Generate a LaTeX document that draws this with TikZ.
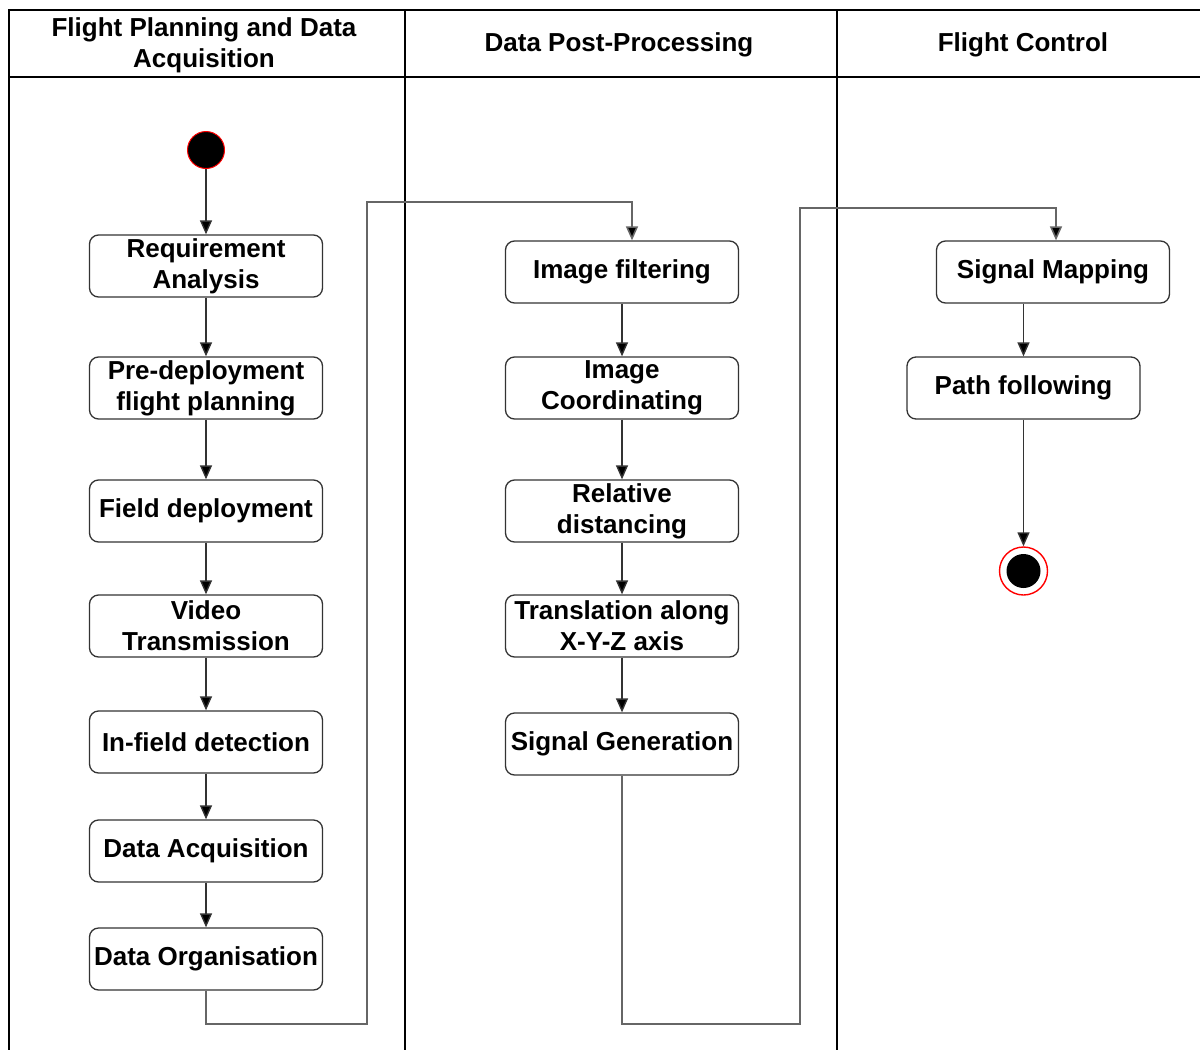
\documentclass[tikz,border=0pt]{standalone}
\usepackage{fontspec}
\setmainfont{Liberation Sans}
\usetikzlibrary{arrows.meta}
\begin{document}
\begin{tikzpicture}[x=1pt,y=-1pt,
  every node/.style={font=\fontsize{26}{31}\selectfont\bfseries},
  actbox/.style={draw=black!80, line width=1.3pt, rounded corners=9pt, minimum width=233pt, minimum height=62pt, inner sep=1pt, align=center},
  arr/.style={draw=black!80, line width=1.4pt, -{Triangle[length=14pt,width=12pt,fill=black]}},
  loopline/.style={draw=black!60, line width=1.6pt, -{Triangle[length=14pt,width=12pt,fill=black]}},
  hdr/.style={align=center, inner sep=0pt}
]
\useasboundingbox (0,0) rectangle (1200,1050);
% swimlane frame
\draw[line width=2pt] (9,1050) -- (9,10) -- (1200,10);
\draw[line width=2pt] (9,77) -- (1200,77);
\draw[line width=2.6pt] (405,10) -- (405,1050);
\draw[line width=1.3pt] (837,10) -- (837,1050);
% headers
\node[hdr] (h1) at (204,45) {Flight Planning and Data\\Acquisition};
\node[hdr] (h2) at (619,45) {Data Post-Processing};
\node[hdr] (h3) at (1023,45) {Flight Control};
% start
\node[circle, fill=black, draw=red, line width=1pt, minimum size=37pt, inner sep=0pt] (start) at (206,150) {};
% column 1
\node[actbox] (r1) at (206,266) {Requirement\\Analysis};
\node[actbox] (r2) at (206,388) {Pre-deployment\\flight planning};
\node[actbox] (r3) at (206,511) {Field deployment};
\node[actbox] (r4) at (206,626) {Video\\Transmission};
\node[actbox] (r5) at (206,742) {In-field detection};
\node[actbox] (r6) at (206,851) {Data Acquisition};
\node[actbox] (r7) at (206,959) {Data Organisation};
% column 2
\node[actbox] (p1) at (622,272) {Image filtering};
\node[actbox] (p2) at (622,388) {Image\\Coordinating};
\node[actbox] (p3) at (622,511) {Relative\\distancing};
\node[actbox] (p4) at (622,626) {Translation along\\X-Y-Z axis};
\node[actbox] (p5) at (622,744) {Signal Generation};
% column 3
\node[actbox] (f1) at (1053,272) {Signal Mapping};
\node[actbox] (f2) at (1023.5,388) {Path following};
\node[circle, draw=red, line width=1.4pt, minimum size=48pt, inner sep=0pt] (end) at (1023.5,571) {};
\fill[black] (end.center) circle (17);
% connectors
\draw[arr] (start) -- (r1);
\draw[arr] (r1) -- (r2);
\draw[arr] (r2) -- (r3);
\draw[arr] (r3) -- (r4);
\draw[arr] (r4) -- (r5);
\draw[arr] (r5) -- (r6);
\draw[arr] (r6) -- (r7);
\draw[arr] (p1) -- (p2);
\draw[arr] (p2) -- (p3);
\draw[arr] (p3) -- (p4);
\draw[arr] (p4) -- (p5);
\draw[arr] (f1.south -| f2.north) -- (f2.north);
\draw[arr] (f2.south) -- (end.north);
\coordinate (a1) at (206,1024);
\coordinate (a2) at (367,1024);
\coordinate (a3) at (367,202);
\coordinate (a4) at (632,202);
\draw[loopline] (r7.south) -- (a1) -- (a2) -- (a3) -- (a4) -- (a4 |- p1.north);
\coordinate (b1) at (622,1024);
\coordinate (b2) at (800,1024);
\coordinate (b3) at (800,208);
\coordinate (b4) at (1056,208);
\draw[loopline] (p5.south) -- (b1) -- (b2) -- (b3) -- (b4) -- (b4 |- f1.north);
\end{tikzpicture}
\end{document}
